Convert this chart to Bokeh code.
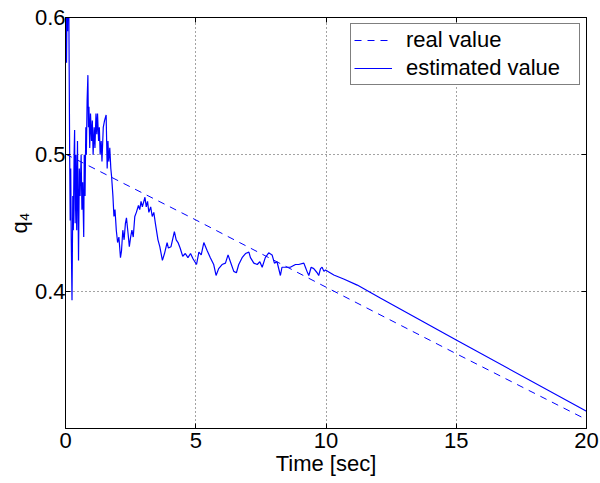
from bokeh.plotting import figure
from bokeh.models import Range1d, FixedTicker, LinearAxis, Legend, LegendItem
from bokeh.embed import file_html
from bokeh.resources import INLINE

# ---------------- data ----------------
real_t = [0, 5, 10, 15, 20]
real_q = [0.5005, 0.4525, 0.4035, 0.355, 0.307]

est_t = [0.00, 0.02, 0.04, 0.06, 0.08, 0.10, 0.13, 0.16, 0.18, 0.20,
         0.22, 0.25, 0.28, 0.30, 0.33, 0.35, 0.37, 0.40, 0.43, 0.46,
         0.50, 0.53, 0.56, 0.60, 0.63, 0.66, 0.70, 0.72, 0.75, 0.78,
         0.80, 0.83, 0.86, 0.88, 0.90, 0.93, 0.96, 1.00, 1.03, 1.06,
         1.10, 1.13, 1.17, 1.20, 1.23, 1.27, 1.30, 1.33, 1.37, 1.40,
         1.45, 1.50, 1.56, 1.60, 1.63, 1.66, 1.70, 1.74, 1.77, 1.82,
         1.86, 1.90, 1.95, 2.00, 2.05, 2.11, 2.15, 2.20, 2.25, 2.30,
         2.34, 2.40, 2.45, 2.50, 2.55, 2.60, 2.66, 2.72, 2.80, 2.85,
         2.90, 2.95, 3.05, 3.10, 3.15, 3.20, 3.27, 3.33, 3.39, 3.45,
         3.55, 3.62, 3.72, 3.80, 3.90, 3.95, 4.05, 4.18, 4.25, 4.32,
         4.40, 4.50, 4.60, 4.70, 4.80, 4.90, 5.03, 5.12, 5.21, 5.31,
         5.44, 5.56, 5.69, 5.78, 5.88, 6.01, 6.14, 6.24, 6.33, 6.46,
         6.56, 6.65, 6.78, 6.91, 7.04, 7.10, 7.23, 7.36, 7.46, 7.55,
         7.67, 7.80, 7.93, 8.02, 8.12, 8.25, 8.31, 8.44, 8.63, 8.83,
         8.95, 9.15, 9.21, 9.27, 9.34, 9.43, 9.53, 9.66, 9.72, 9.79,
         9.85, 9.92, 9.98, 10.3, 10.7, 11.2, 12.1, 15.0, 20.0]
est_q = [0.585, 0.625, 0.567, 0.615, 0.590, 0.630, 0.600, 0.500, 0.452, 0.490,
         0.440, 0.394, 0.470, 0.445, 0.500, 0.518, 0.450, 0.500, 0.445, 0.510,
         0.423, 0.490, 0.470, 0.500, 0.460, 0.480, 0.440, 0.500, 0.470, 0.520,
         0.500, 0.540, 0.558, 0.520, 0.535, 0.505, 0.530, 0.510, 0.525, 0.500,
         0.520, 0.505, 0.530, 0.515, 0.530, 0.510, 0.520, 0.500, 0.510, 0.495,
         0.520, 0.525, 0.529, 0.490, 0.510, 0.495, 0.505, 0.490, 0.484, 0.470,
         0.455, 0.460, 0.445, 0.436, 0.440, 0.425, 0.430, 0.445, 0.438, 0.450,
         0.454, 0.443, 0.433, 0.440, 0.445, 0.440, 0.455, 0.458, 0.463, 0.460,
         0.466, 0.462, 0.469, 0.462, 0.466, 0.458, 0.462, 0.455, 0.458, 0.450,
         0.438, 0.433, 0.423, 0.428, 0.436, 0.432, 0.433, 0.444, 0.438, 0.436,
         0.432, 0.426, 0.428, 0.425, 0.428, 0.424, 0.420, 0.429, 0.427, 0.436,
         0.430, 0.425, 0.420, 0.412, 0.417, 0.420, 0.421, 0.427, 0.422, 0.415,
         0.414, 0.420, 0.425, 0.428, 0.429, 0.425, 0.421, 0.420, 0.422, 0.418,
         0.425, 0.4285, 0.427, 0.421, 0.422, 0.412, 0.418, 0.418, 0.418, 0.420,
         0.420, 0.421, 0.418, 0.415, 0.412, 0.418, 0.417, 0.414, 0.412, 0.417,
         0.418, 0.415, 0.416, 0.4124, 0.4093, 0.405, 0.3954, 0.365, 0.313]

x_ticks = [0, 5, 10, 15, 20]
x_tick_labels = ["0", "5", "10", "15", "20"]
y_ticks = [0.4, 0.5, 0.6]
y_tick_labels = ["0.4", "0.5", "0.6"]

series_labels = ["real value", "estimated value"]
x_title = "Time [sec]"
y_title = "q\u2084"

# ---------------- figure ----------------
FONT = "Liberation Sans"
FS = "22px"

p = figure(width=600, height=483,
           x_range=Range1d(0, 20), y_range=Range1d(0.3005, 0.6),
           output_backend="svg", toolbar_location=None,
           min_border_left=65, min_border_right=14,
           min_border_top=17, min_border_bottom=55)
p.background_fill_color = "white"
p.border_fill_color = "white"
p.outline_line_color = "black"
p.outline_line_width = 1
p.outline_line_alpha = 1

for ax, ticks, labels in ((p.xaxis[0], x_ticks, x_tick_labels),
                          (p.yaxis[0], y_ticks, y_tick_labels)):
    ax.ticker = FixedTicker(ticks=ticks)
    ax.major_label_overrides = {t: l for t, l in zip(ticks, labels)}
    ax.major_tick_in = 5
    ax.major_tick_out = 0
    ax.minor_tick_line_color = None
    ax.axis_line_color = "black"
    ax.major_tick_line_color = "black"
    ax.major_label_text_font = FONT
    ax.major_label_text_font_size = FS
    ax.major_label_text_color = "black"
    ax.axis_label_text_font = FONT
    ax.axis_label_text_font_size = FS
    ax.axis_label_text_font_style = "normal"
    ax.axis_label_text_color = "black"

p.xaxis[0].axis_label = x_title
p.yaxis[0].axis_label = y_title
p.xaxis[0].major_label_standoff = 4
p.xaxis[0].axis_label_standoff = 0
p.yaxis[0].major_label_standoff = 0
p.yaxis[0].axis_label_standoff = 0

# top and right boxes with inward ticks (no labels)
top = LinearAxis(ticker=FixedTicker(ticks=x_ticks), major_tick_in=5, major_tick_out=0,
                 minor_tick_line_color=None, major_label_text_color=None,
                 major_label_standoff=0, axis_line_color="black")
right = LinearAxis(ticker=FixedTicker(ticks=y_ticks), major_tick_in=5, major_tick_out=0,
                   minor_tick_line_color=None, major_label_text_color=None,
                   major_label_standoff=0, axis_line_color="black")
p.add_layout(top, "above")
p.add_layout(right, "right")

for g in (p.xgrid[0], p.ygrid[0]):
    g.grid_line_color = "#333333"
    g.grid_line_dash = "1 3"
    g.grid_line_width = 1
    g.grid_line_alpha = 0.9

r_real = p.line(real_t, real_q, line_color="#0000ff", line_width=1, line_dash="7 6")
r_est = p.line(est_t, est_q, line_color="#0000ff", line_width=1.2)

legend = Legend(items=[LegendItem(label=series_labels[0], renderers=[r_real]),
                       LegendItem(label=series_labels[1], renderers=[r_est])],
                location="top_right")
legend.border_line_color = "black"
legend.border_line_width = 1
legend.background_fill_color = "white"
legend.background_fill_alpha = 1
legend.label_text_font = FONT
legend.label_text_font_size = FS
legend.label_text_color = "black"
legend.glyph_width = 38
legend.glyph_height = 20
legend.label_standoff = 14
legend.label_height = 24
legend.label_width = 170
legend.padding = 3
legend.spacing = 2
legend.margin = 6
p.add_layout(legend)

open("out.html", "w").write(file_html(p, INLINE))
